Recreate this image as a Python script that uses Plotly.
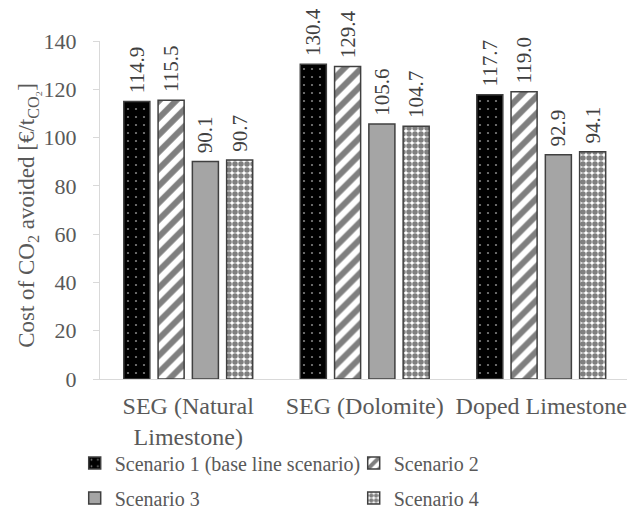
import plotly.graph_objects as go

categories = ["SEG (Natural<br>Limestone)", "SEG (Dolomite)", "Doped Limestone"]
scenario_names = ["Scenario 1 (base line scenario)", "Scenario 2", "Scenario 3", "Scenario 4"]
s1 = [114.9, 130.4, 117.7]
s2 = [115.5, 129.4, 119.0]
s3 = [90.1, 105.6, 92.9]
s4 = [90.7, 104.7, 94.1]
y_ticks = [0, 20, 40, 60, 80, 100, 120, 140]
y_title = "Cost of CO<sub>2</sub> avoided [€/t<sub>CO₂</sub>]"

series = [s1, s2, s3, s4]
x_pos = list(range(len(categories)))

patterns = [
    dict(shape=".", fgcolor="white", bgcolor="black", size=8, solidity=0.06, fillmode="overlay"),
    dict(shape="/", fgcolor="black", bgcolor="white", size=12, solidity=0.5, fillmode="overlay"),
    None,
    dict(shape=".", fgcolor="black", bgcolor="white", size=6, solidity=0.66, fillmode="overlay"),
]
colors = ["black", "white", "#a5a5a5", "white"]
legends = ["legend", "legend", "legend2", "legend2"]

serif = "Liberation Serif"
fig = go.Figure()
for name, vals, pat, col, lg in zip(scenario_names, series, patterns, colors, legends):
    marker = dict(color=col, line=dict(color="#404040", width=1.5))
    if pat is not None:
        marker["pattern"] = pat
    fig.add_trace(go.Bar(
        x=x_pos, y=vals, name=name, marker=marker,
        text=["\u00a0" + f"{v:.1f}" for v in vals], textposition="outside", textangle=-90,
        textfont=dict(family=serif, size=21, color="#404040"),
        cliponaxis=False, constraintext="none", legend=lg,
    ))

fig.update_layout(
    width=627, height=509,
    margin=dict(l=100, r=0, t=41, b=130, autoexpand=False),
    paper_bgcolor="white", plot_bgcolor="white",
    barmode="group", bargap=0.223, bargroupgap=0.24,
    font=dict(family=serif, color="#595959"),
    xaxis=dict(
        tickvals=x_pos, ticktext=categories, range=[-0.5, 2.486],
        showline=True, linecolor="#d9d9d9", linewidth=1.3,
        ticks="", tickfont=dict(family=serif, size=24, color="#595959"),
        ticklabelstandoff=5,
        showgrid=False, zeroline=False, automargin=False,
    ),
    yaxis=dict(
        range=[0, 140], tickvals=y_ticks, showgrid=False, zeroline=False,
        showline=True, linecolor="#d9d9d9", linewidth=1.3,
        ticks="outside", ticklen=6, tickcolor="#d9d9d9", tickwidth=1.3,
        ticklabelstandoff=12, automargin=False,
        tickfont=dict(family=serif, size=22, color="#595959"),
    ),
    yaxis2=dict(
        overlaying="y", anchor="x", side="left", range=[0, 140], tickvals=y_ticks,
        showticklabels=False, showgrid=False, zeroline=False, showline=False,
        ticks="inside", ticklen=6, tickcolor="#d9d9d9", tickwidth=1.3,
    ),
    legend=dict(orientation="h", x=-0.048, xanchor="left", y=-0.2485, yanchor="middle",
                entrywidth=234, entrywidthmode="pixels",
                font=dict(size=20, color="#595959", family=serif), bgcolor="rgba(0,0,0,0)"),
    legend2=dict(orientation="h", x=-0.048, xanchor="left", y=-0.352, yanchor="middle",
                 entrywidth=234, entrywidthmode="pixels",
                 font=dict(size=20, color="#595959", family=serif), bgcolor="rgba(0,0,0,0)"),
    annotations=[dict(
        text=y_title, textangle=-90, showarrow=False,
        xref="paper", yref="paper", x=-0.137, y=0.485, xanchor="center", yanchor="middle",
        font=dict(family=serif, size=23, color="#595959"),
    )],
)

fig.write_html("out.html")
